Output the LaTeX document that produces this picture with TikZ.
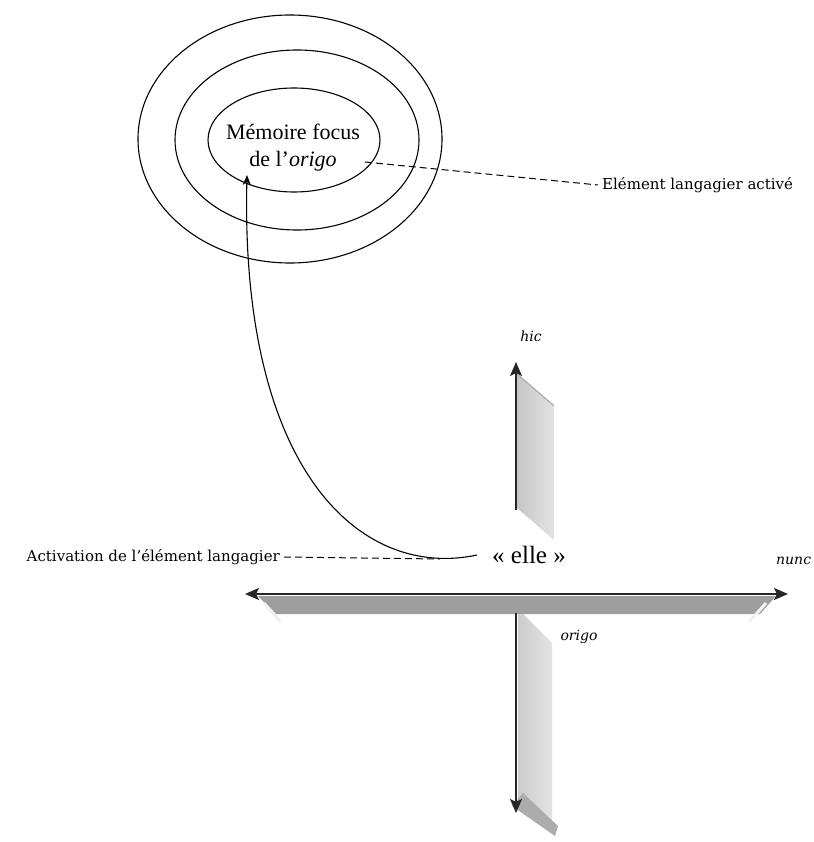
\documentclass[tikz,border=0pt]{standalone}
\usepackage{fontspec}
\setmainfont{Liberation Serif}
\newfontfamily\labelfont{DejaVu Serif}
\usetikzlibrary{positioning, arrows.meta}
\definecolor{bandgray}{RGB}{158,158,158}
\definecolor{bevelgray}{RGB}{172,172,172}
\tikzset{
  axistip/.tip={Stealth[length=14pt, width=12pt, inset=3pt]},
  axisarrow/.style={line width=2pt, draw=black!85},
  axislabel/.style={font=\labelfont\itshape\fontsize{14}{16}\selectfont},
  sidelabel/.style={font=\labelfont\fontsize{15}{18}\selectfont, inner sep=4pt},
  linkdash/.style={dash pattern=on 7pt off 4pt, line width=1pt}
}
\begin{document}
\begin{tikzpicture}[x=1pt, y=-1pt, >={Stealth[length=10pt, width=8pt]}]
\useasboundingbox (0,0) rectangle (813,842);

% Concentric memory ellipses
\foreach \cx/\cy/\rx/\ry in {290/139/152/124, 297/140/122/90, 294/140/86/52} {
  \draw[line width=1.1pt] (\cx,\cy) ellipse [x radius=\rx, y radius=\ry];
}
\node[font=\fontsize{22}{27}\selectfont, align=center] (memory) at (293,148) {Mémoire focus\\de l’\textit{origo}};

% Activated element
\coordinate (focusend) at (365,162);
\node[sidelabel, anchor=west] (active) at (598,185) {Elément langagier activé};
\draw[linkdash] (focusend) -- (active.west);

% The pronoun and its activation
\node[font=\fontsize{25}{30}\selectfont, anchor=west, inner xsep=15pt] (elle) at (477,555) {«~elle~»};
\node[sidelabel, anchor=east] (activation) at (284,557) {Activation de l’élément langagier};
\coordinate (dashend) at (440,559);
\draw[linkdash] (activation.east) -- (dashend);
\coordinate (focustip) at (247,175);
\draw[->, line width=1.1pt] (elle.west) .. controls (360,580) and (240,470) .. (focustip);

% Horizontal axis (3D band)
\fill[bandgray] (258,596) -- (776,596) -- (760,614) -- (276,614) -- cycle;
\draw[line width=3pt, gray!12] (264,603) -- (281,622);
\draw[line width=3pt, gray!12] (766,603) -- (749,622);

% Upper vertical band
\shade[left color=gray!45, right color=gray!22] (517,375) -- (554,407) -- (554,540) -- (517,508) -- cycle;
\draw[gray!60, line width=1.5pt] (517,374) -- (554,406);

% Lower vertical band
\shade[left color=gray!40, right color=gray!22] (518,614) -- (523,614) -- (552,643) -- (552,828) -- (518,800) -- cycle;
\fill[bevelgray] (523,793) -- (558,826) -- (555,836) -- (512,806) -- cycle;

% Axes arrows
\coordinate (lefttip) at (245,594);
\coordinate (nunctip) at (788,594);
\coordinate (hicfoot) at (516,510);
\coordinate (hictip) at (516,362);
\coordinate (origofoot) at (516,613);
\coordinate (origotip) at (516,813);
\draw[axisarrow, axistip-axistip] (lefttip) -- (nunctip);
\draw[axisarrow, -axistip] (hicfoot) -- (hictip);
\draw[axisarrow, -axistip] (origofoot) -- (origotip);

% Axis labels
\node[axislabel] (hic) at (531,336) {hic};
\node[axislabel, anchor=west, inner sep=1pt] (nunc) at (775,561) {nunc};
\node[axislabel] (origo) at (579,637) {origo};
\end{tikzpicture}
\end{document}
